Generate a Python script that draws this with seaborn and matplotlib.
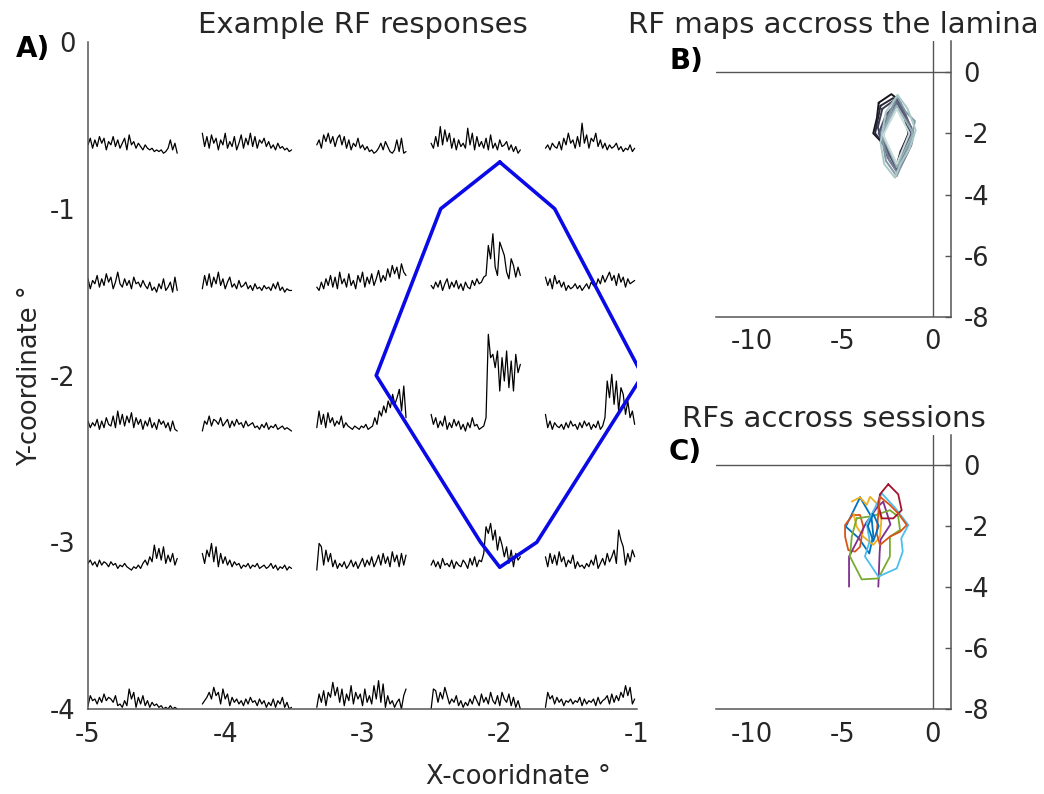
import numpy as np
import pandas as pd
import matplotlib
matplotlib.use("Agg")
import matplotlib.pyplot as plt
import seaborn as sns

# ---------------- data ----------------
# stimulus grid (degrees)
grid_x = [-5.0, -4.167, -3.333, -2.5, -1.667]
grid_y = [-0.667, -1.5, -2.333, -3.167, -4.0]   # rows top -> bottom
trace_span = 0.65
trace_scale = 0.01

# traces: rows (top->bottom) x cols (left->right), values in 0.01 deg units above row baseline
r1c1 = [5,9,3,8,4,10,6,9,2,7,5,10,4,8,3,6,9,2,11,5,7,3,6,4,2,5,3,2,3,1,2,1,2,0,1,3,8,2,6,0]
r1c2 = [12,4,10,3,11,6,9,2,8,5,12,3,7,4,10,2,6,11,3,9,5,12,4,10,3,8,6,9,4,7,3,5,2,6,3,4,2,3,1,2]
r1c3 = [5,8,3,11,7,12,6,10,4,9,11,5,10,3,8,2,6,4,9,3,5,2,4,1,2,0,1,3,6,2,7,4,1,0,2,8,1,9,0,1]
r1c4 = [6,3,10,4,16,5,14,7,12,3,9,2,8,4,6,3,15,5,12,2,10,4,7,3,9,2,11,3,6,2,8,4,5,7,2,5,1,4,0,2]
r1c5 = [3,5,2,6,4,3,7,2,9,5,12,6,8,3,10,4,18,6,11,3,9,7,12,4,8,3,6,2,5,3,4,6,2,4,1,3,2,5,1,3]

r2c1 = [8,2,7,5,10,3,8,4,11,6,9,2,6,12,5,3,8,4,7,2,9,5,6,3,7,4,2,6,1,3,0,5,2,8,1,3,6,0,9,1]
r2c2 = [2,10,4,11,3,9,5,12,4,8,2,6,9,3,5,2,7,3,4,6,2,4,1,5,2,3,1,4,2,3,1,5,2,6,1,3,0,2,1,1]
r2c3 = [3,1,6,2,8,4,10,3,9,2,12,5,8,3,11,4,7,2,10,6,12,3,9,5,11,4,8,13,6,10,7,14,9,16,11,15,8,17,12,10]
r2c4 = [4,2,6,3,7,1,5,8,2,6,3,7,2,5,1,6,3,2,7,4,8,5,6,9,10,28,20,35,15,10,30,26,22,12,8,20,16,9,15,10]
r2c5 = [9,4,8,2,10,5,7,3,6,1,4,2,3,5,2,4,1,3,5,2,6,4,3,8,5,10,6,9,12,7,10,4,11,6,9,3,8,5,6,7]

r3c1 = [6,2,5,3,7,1,6,2,8,4,3,9,2,12,4,10,3,9,5,11,2,8,4,7,1,6,3,8,2,5,1,7,4,6,2,5,0,6,1,0]
r3c2 = [0,6,4,9,3,7,6,4,8,3,5,7,2,6,3,7,4,5,2,6,3,4,5,2,3,1,4,2,5,1,3,2,4,1,2,3,1,2,1,0]
r3c3 = [2,12,4,10,2,11,5,8,3,6,4,9,2,5,3,2,1,3,2,1,3,2,4,1,2,3,8,4,12,9,15,11,18,14,22,16,20,25,12,27,8]
r3c4 = [10,4,8,2,6,3,9,1,5,2,7,3,6,1,4,0,5,2,8,3,4,1,2,3,8,58,44,46,38,48,24,44,30,48,26,42,24,46,35,40]
r3c5 = [10,2,6,1,5,3,2,4,1,5,2,6,3,4,1,5,2,6,3,5,1,4,2,6,1,3,8,30,20,34,16,30,12,26,22,10,18,8,12,4]

r4c1 = [4,6,3,5,2,6,3,5,4,2,5,3,4,1,3,2,4,2,1,0,2,1,3,1,4,6,3,8,5,15,7,13,6,14,4,9,5,10,3,7]
r4c2 = [10,4,12,8,16,5,14,2,10,4,8,3,6,2,5,3,4,1,3,2,4,1,3,2,4,1,2,3,1,2,4,1,3,0,2,1,3,0,2,1]
r4c3 = [0,16,14,3,12,5,10,2,6,1,4,2,5,1,3,6,2,5,1,4,7,2,6,3,8,2,5,9,3,10,4,8,2,11,5,9,2,10,3,9]
r4c4 = [3,6,2,5,1,7,3,4,2,6,1,5,3,2,6,4,1,7,3,8,2,6,5,10,26,22,28,18,24,12,20,15,8,14,4,12,2,10,6,8]
r4c5 = [8,2,10,4,9,3,11,5,8,2,6,4,9,1,5,2,3,1,4,2,6,3,9,1,4,7,3,10,5,8,12,4,24,18,14,3,10,5,12,8]

r5c1 = [2,8,5,6,3,7,4,9,5,7,6,4,8,2,3,1,5,2,12,6,10,1,7,3,8,2,5,1,4,2,3,1,2,0,1,0,2,0,1,0]
r5c2 = [3,5,7,10,6,13,8,10,3,12,6,9,2,7,4,6,3,5,2,6,3,7,4,5,2,6,3,5,1,4,2,6,1,5,3,7,1,4,0,1]
r5c3 = [1,9,4,11,2,10,7,16,8,13,4,12,2,9,5,14,3,10,6,9,2,12,4,8,3,14,6,17,4,15,1,8,3,5,1,4,6,0,8,12]
r5c4 = [0,12,11,4,10,6,13,8,3,6,4,8,2,5,1,4,2,6,3,8,5,2,9,4,7,3,10,5,3,8,2,10,6,4,9,2,7,1,5,0]
r5c5 = [1,10,6,8,3,7,4,6,2,5,4,6,3,5,4,7,2,6,3,5,4,6,2,7,3,5,6,8,3,9,4,8,5,10,7,14,8,13,3,6]

traces = [[r1c1, r1c2, r1c3, r1c4, r1c5],
          [r2c1, r2c2, r2c3, r2c4, r2c5],
          [r3c1, r3c2, r3c3, r3c4, r3c5],
          [r4c1, r4c2, r4c3, r4c4, r4c5],
          [r5c1, r5c2, r5c3, r5c4, r5c5]]

# RF outline (panel A)
rf_x = [-2.0, -1.6, -0.96, -1.73, -2.0, -2.14, -2.9, -2.43, -2.0]
rf_y = [-0.72, -1.0, -2.0, -3.0, -3.15, -3.0, -2.0, -1.0, -0.72]

# Panel B: RF contours across the lamina (deep -> superficial)
lam_contours = [
    [(-3.0,-1.0),(-2.3,-0.72),(-1.9,-0.9),(-1.6,-1.4),(-1.35,-2.0),(-1.7,-2.5),(-2.0,-3.0),(-2.5,-2.5),(-3.3,-2.0),(-3.1,-1.5),(-3.0,-1.0)],
    [(-2.9,-1.1),(-2.2,-0.85),(-1.8,-1.0),(-1.4,-1.6),(-1.3,-2.0),(-1.8,-2.6),(-2.0,-3.1),(-2.4,-2.6),(-3.2,-2.0),(-2.9,-1.1)],
    [(-2.8,-1.2),(-2.1,-0.9),(-1.3,-1.7),(-1.35,-2.1),(-2.0,-3.05),(-2.9,-2.1),(-3.05,-1.8),(-2.8,-1.2)],
    [(-2.0,-1.0),(-1.2,-1.8),(-1.25,-2.1),(-2.0,-3.15),(-2.7,-2.4),(-3.0,-2.0),(-2.6,-1.4),(-2.0,-1.0)],
    [(-2.0,-0.95),(-1.5,-1.4),(-1.1,-2.0),(-1.6,-2.7),(-2.0,-3.2),(-2.5,-2.8),(-2.9,-2.0),(-2.4,-1.3),(-2.0,-0.95)],
    [(-2.05,-1.05),(-1.05,-2.0),(-1.2,-2.4),(-1.95,-3.3),(-2.4,-2.9),(-2.85,-2.1),(-2.05,-1.05)],
    [(-2.0,-0.8),(-1.5,-1.3),(-1.0,-1.6),(-1.2,-2.2),(-1.6,-2.8),(-2.0,-3.4),(-2.6,-2.9),(-2.8,-2.2),(-2.5,-1.5),(-2.0,-0.8)],
    [(-2.0,-1.1),(-1.1,-2.0),(-2.0,-3.1),(-2.85,-2.0),(-2.0,-1.1)],
    [(-1.95,-0.75),(-1.4,-1.2),(-0.95,-1.9),(-1.3,-2.5),(-1.8,-3.0),(-2.1,-3.45),(-2.7,-3.0),(-2.9,-2.3),(-2.6,-1.3),(-1.95,-0.75)],
    [(-2.0,-1.2),(-1.3,-2.0),(-2.0,-3.0),(-2.75,-2.05),(-2.0,-1.2)],
]

# Panel C: RF contours across sessions
sess_contours = [
    [(-4.03,-1.06),(-3.4,-1.7),(-3.3,-2.3),(-3.52,-2.9),(-4.1,-2.4),(-4.82,-2.02),(-4.03,-1.06)],
    [(-4.44,-1.64),(-4.03,-1.64),(-3.85,-2.02),(-4.03,-2.68),(-4.31,-2.84),(-4.68,-2.79),(-4.86,-2.35),(-4.86,-1.97),(-4.44,-1.64)],
    [(-4.49,-1.2),(-4.03,-1.06),(-3.66,-1.31),(-3.48,-1.04),(-3.11,-1.26),(-2.85,-1.8),(-2.93,-2.35),(-3.3,-2.62),(-3.85,-2.35),(-4.22,-2.02),(-4.4,-1.58)],
    [(-4.64,-3.99),(-4.64,-3.0),(-4.2,-2.5),(-3.7,-1.9),(-3.1,-1.4),(-2.75,-1.2),(-2.35,-1.95),(-2.9,-2.45),(-2.95,-2.9),(-3.02,-3.99)],
    [(-4.22,-1.75),(-3.3,-1.67),(-2.38,-1.48),(-1.92,-1.69),(-1.82,-2.13),(-2.38,-2.35),(-2.38,-3.0),(-3.02,-3.72),(-3.94,-3.75),(-4.59,-3.0),(-4.49,-2.35),(-4.22,-1.75)],
    [(-2.83,-0.93),(-2.1,-1.4),(-1.36,-1.97),(-1.75,-2.4),(-1.67,-2.84),(-2.0,-3.39),(-3.02,-3.66),(-3.76,-3.0),(-3.5,-2.5),(-3.66,-1.91),(-3.2,-1.4),(-2.83,-0.93)],
    [(-2.47,-0.63),(-1.92,-0.96),(-1.73,-1.48),(-2.19,-1.75),(-2.83,-1.75),(-3.02,-1.31),(-2.93,-0.96),(-2.47,-0.63)],
    [(-2.93,-1.04),(-2.4,-1.3),(-1.9,-1.6),(-1.45,-1.97),(-1.82,-2.19),(-2.38,-2.35),(-2.93,-2.62),(-3.11,-2.24),(-3.02,-1.58),(-2.93,-1.04)],
    [(-3.3,-1.6),(-3.0,-2.0),(-3.3,-2.5),(-3.6,-2.0),(-3.3,-1.6)],
]
sess_colors = ["#0072BD", "#D95319", "#EDB120", "#7E2F8E", "#77AC30",
               "#4DBEEE", "#A2142F", "#D95319", "#0072BD"]

# ---------------- style ----------------
sns.set_theme(style="white")
plt.rcParams["font.family"] = ["DejaVu Sans"]
plt.rcParams["axes.unicode_minus"] = False
FS = 18.5
FT = 21
AXC = "#555555"
TXT = "#262626"

fig = plt.figure(figsize=(10.44, 7.94), dpi=100)
axA = fig.add_axes([88/1044, 85/794, 549/1044, 667/794])
axB = fig.add_axes([716/1044, 477/794, 235/1044, 275.5/794])
axC = fig.add_axes([716/1044, 85/794, 235/1044, 274.5/794])

# ---------------- panel A ----------------
rows = []
for ri, yrow in enumerate(grid_y):
    for ci, xcol in enumerate(grid_x):
        vals = np.asarray(traces[ri][ci], dtype=float)
        xs = xcol + np.linspace(0, trace_span, len(vals))
        ys = yrow + vals * trace_scale
        for xx, yy in zip(xs, ys):
            rows.append({"id": f"{ri}-{ci}", "x": xx, "y": yy})
dfA = pd.DataFrame(rows)
sns.lineplot(data=dfA, x="x", y="y", units="id", estimator=None, sort=False,
             color="black", lw=0.9, ax=axA)
dfRF = pd.DataFrame({"x": rf_x, "y": rf_y})
sns.lineplot(data=dfRF, x="x", y="y", sort=False, estimator=None,
             color="#0a0ae6", lw=2.6, ax=axA)

axA.set_xlim(-5, -1)
axA.set_ylim(-4, 0)
axA.set_xticks([-5, -4, -3, -2, -1])
axA.set_yticks([0, -1, -2, -3, -4])
for s in ["top", "right"]:
    axA.spines[s].set_visible(False)
for s in ["left", "bottom"]:
    axA.spines[s].set_color(AXC)
    axA.spines[s].set_linewidth(1.1)
axA.tick_params(direction="in", length=5, width=1, colors=AXC, labelcolor=TXT,
                labelsize=FS, pad=9)
axA.set_xlabel("X-cooridnate °", fontsize=FS, color=TXT)
axA.set_ylabel("Y-coordinate °", fontsize=FS, color=TXT)
axA.xaxis.set_label_coords(0.784, -0.082)
axA.yaxis.set_label_coords(-0.082, 0.5)
axA.set_title("Example RF responses", fontsize=FT, color=TXT, pad=6.5)

# ---------------- panels B & C ----------------
def style_rf_axes(ax):
    ax.set_xlim(-12, 1)
    ax.set_ylim(-8, 1)
    ax.set_xticks([-10, -5, 0])
    ax.set_yticks([0, -2, -4, -6, -8])
    ax.yaxis.tick_right()
    for s in ["top", "left"]:
        ax.spines[s].set_visible(False)
    for s in ["right", "bottom"]:
        ax.spines[s].set_color(AXC)
        ax.spines[s].set_linewidth(1.1)
    ax.axhline(0, color=AXC, lw=1.0, zorder=0)
    ax.axvline(0, color=AXC, lw=1.0, zorder=0)
    ax.tick_params(direction="in", length=4, width=1, colors=AXC, labelcolor=TXT,
                   labelsize=FS, pad=9)
    ax.set_xlabel("")
    ax.set_ylabel("")

rowsB = []
for k, c in enumerate(lam_contours):
    for j, (xx, yy) in enumerate(c):
        rowsB.append({"cid": k, "x": xx, "y": yy})
dfB = pd.DataFrame(rowsB)
bone = sns.color_palette("bone", 256)
palB = [bone[int(v)] for v in np.linspace(25, 215, len(lam_contours))]
sns.lineplot(data=dfB, x="x", y="y", hue="cid", palette=palB, sort=False,
             estimator=None, lw=1.4, legend=False, ax=axB)
style_rf_axes(axB)
axB.set_title("RF maps accross the lamina", fontsize=FT, color=TXT, pad=6)

rowsC = []
for k, c in enumerate(sess_contours):
    for j, (xx, yy) in enumerate(c):
        rowsC.append({"sid": k, "x": xx, "y": yy})
dfC = pd.DataFrame(rowsC)
sns.lineplot(data=dfC, x="x", y="y", hue="sid", palette=sess_colors, sort=False,
             estimator=None, lw=1.3, legend=False, ax=axC)
style_rf_axes(axC)
axC.set_title("RFs accross sessions", fontsize=FT, color=TXT, pad=5.5)

# panel letters
fig.text(16/1044, 1 - 49/794, "A)", fontsize=20, fontweight="bold", color="black", va="center")
fig.text(669/1044, 1 - 61/794, "B)", fontsize=20, fontweight="bold", color="black", va="center")
fig.text(669/1044, 1 - 452/794, "C)", fontsize=20, fontweight="bold", color="black", va="center")

fig.savefig("out.png", dpi=100, facecolor="white")
